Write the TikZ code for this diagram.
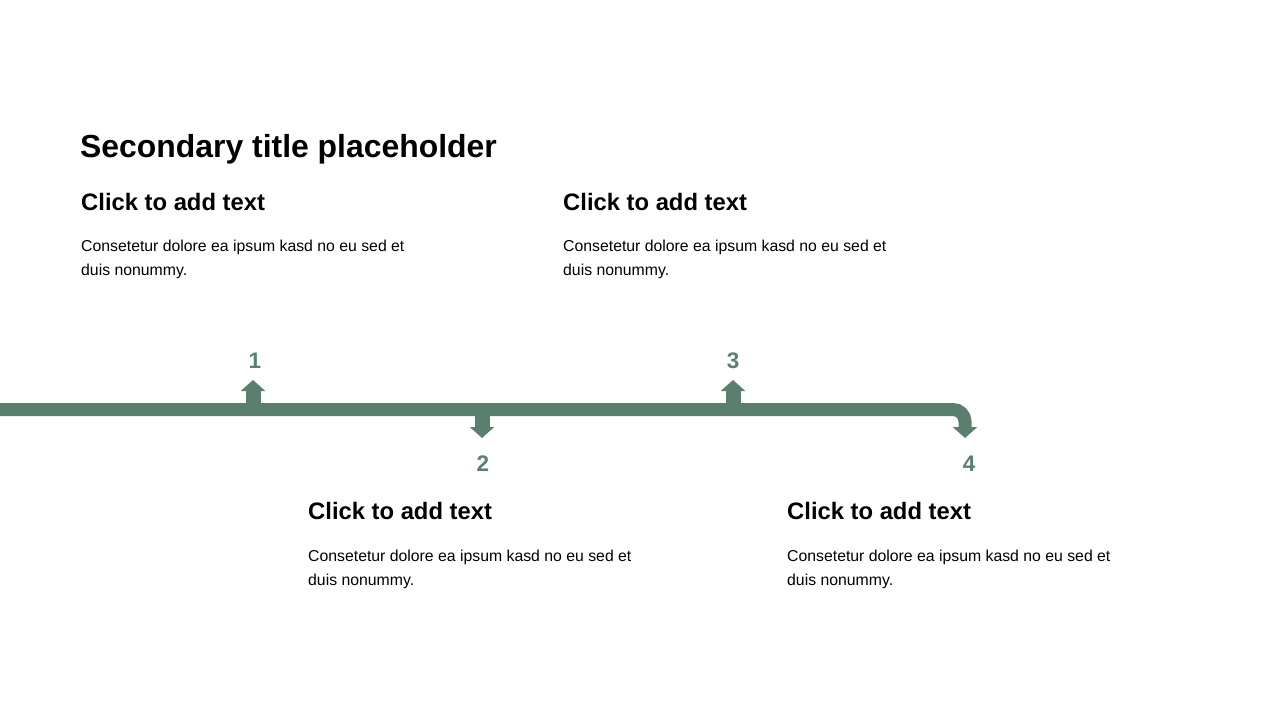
\documentclass[tikz,border=0pt]{standalone}
\usepackage{fontspec}
\setmainfont{Liberation Sans}
\usetikzlibrary{arrows.meta}
\definecolor{sage}{HTML}{5B7F6E}
\tikzset{
  title/.style={anchor=base west, inner sep=0pt, font=\fontsize{31.9}{38}\selectfont\bfseries},
  heading/.style={anchor=base west, inner sep=0pt, font=\fontsize{23.8}{28}\selectfont\bfseries},
  body/.style={anchor=base west, inner sep=0pt, align=left, font=\fontsize{15.8}{23.3}\selectfont},
  num/.style={anchor=base, inner sep=0pt, text=sage, font=\fontsize{22.5}{26}\selectfont\bfseries},
  branch/.style={draw=sage, line width=15pt, -{Triangle[width=24pt,length=11pt]}},
}
\begin{document}
\begin{tikzpicture}[x=1pt,y=-1pt]
    \useasboundingbox (0,0) rectangle (1280,720);
    \node[title] (tt) at (80,157) {Secondary title placeholder};
    % upper texts
    \node[heading] (h1) at (81,210) {Click to add text};
    \node[body] (b1) at (81,275) {Consetetur dolore ea ipsum kasd no eu sed et\\duis nonummy.};
    \node[heading] (h3) at (563,210) {Click to add text};
    \node[body] (b3) at (563,275) {Consetetur dolore ea ipsum kasd no eu sed et\\duis nonummy.};
    % lower texts
    \node[heading] (h2) at (308,519) {Click to add text};
    \node[body] (b2) at (308,585) {Consetetur dolore ea ipsum kasd no eu sed et\\duis nonummy.};
    \node[heading] (h4) at (787,519) {Click to add text};
    \node[body] (b4) at (787,585) {Consetetur dolore ea ipsum kasd no eu sed et\\duis nonummy.};
    % timeline
    \coordinate (t0) at (0,409.5);
    \coordinate (t1) at (253,409.5);
    \coordinate (t2) at (482,409.5);
    \coordinate (t3) at (733,409.5);
    \coordinate (tip1) at (253,380);
    \coordinate (tip2) at (482,438);
    \coordinate (tip3) at (733,380);
    \coordinate (tip4) at (965,438);
    \draw[branch] (t1) -- (tip1);
    \draw[branch] (t2) -- (tip2);
    \draw[branch] (t3) -- (tip3);
    \draw[branch, line width=13pt, rounded corners=12pt] (t0) -| (tip4);
    \node[num] (n1) at (255,368) {1};
    \node[num] (n2) at (483,471) {2};
    \node[num] (n3) at (733,368) {3};
    \node[num] (n4) at (969,471) {4};
\end{tikzpicture}
\end{document}
